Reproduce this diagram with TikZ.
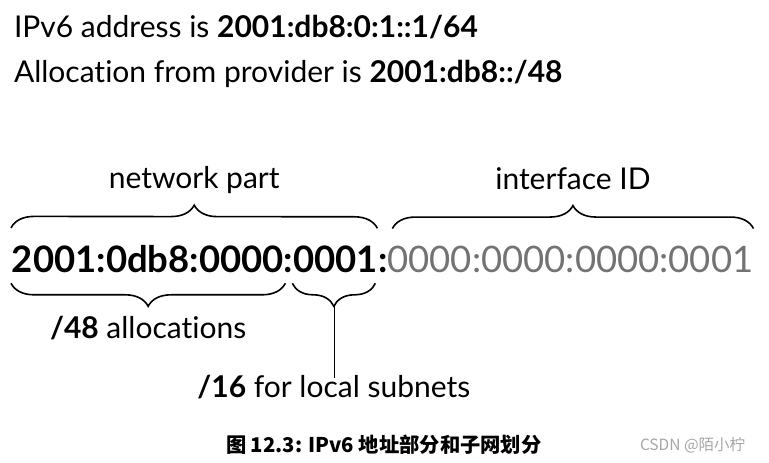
\documentclass[tikz,border=0pt]{standalone}
\usepackage{fontspec}
\setmainfont{Lato}[Ligatures={NoCommon}]
\newfontfamily\cjk{Noto Sans CJK SC}
\usetikzlibrary{positioning, decorations.pathreplacing}

\begin{document}
\begin{tikzpicture}[
    x=1pt, y=-1pt,
    every node/.style={inner sep=0pt, outer sep=0pt},
    txt/.style={font=\fontsize{30}{35}\selectfont, anchor=base west},
    lbl/.style={font=\fontsize{30}{35}\selectfont, anchor=base},
    addr/.style={font=\fontsize{36.5}{42}\selectfont\bfseries, anchor=base west},
    hostpart/.style={font=\fontsize{36.5}{42}\selectfont, text=black!55, anchor=base west},
    brc/.style={decorate, line width=1.6pt, decoration={brace, amplitude=23pt}}
]
\useasboundingbox (0,0) rectangle (769,463);
\fill[white] (0,0) rectangle (769,463);

% Kopfzeilen
\node[txt] (ip) at (14,37) {IPv6 address is \textbf{2001:db8:0:1::1/64}};
\node[txt] (alloc) at (14,82) {Allocation from provider is \textbf{2001:db8::/48}};

% Adresse
\node[addr] (pre) at (12,272) {2001:0db8:0000:};
\node[addr] (sub) at (pre.base east) {0001:};
\node[hostpart] (iid) at (sub.base east) {0000:0000:0000:0001};

% Klammern oben
\draw[brc] ([xshift=-1pt, yshift=17pt]pre.north west) -- ([xshift=-10pt, yshift=17pt]sub.north east)
    node[lbl, midway, yshift=40pt] (netlbl) {network part};
\draw[brc] ([xshift=5pt, yshift=17pt]iid.north west) -- ([yshift=17pt]iid.north east)
    node[lbl, midway, yshift=39pt] (iflbl) {interface ID};

% Klammern unten
\draw[brc] ([xshift=-8pt, yshift=-11pt]sub.south west) -- ([xshift=-1pt, yshift=-11pt]pre.south west)
    node[lbl, midway, yshift=-55pt] (al48) {\textbf{/48} allocations};
\draw[brc] ([xshift=-12pt, yshift=-11pt]sub.south east) -- ([xshift=-1pt, yshift=-11pt]sub.south west)
    coordinate[midway, below=23pt] (tip16);

% Subnetz-Beschriftung
\node[lbl] (sub16) at ([yshift=-91pt]tip16) {\textbf{/16} for local subnets};
\draw (tip16) -- ([yshift=-3pt]sub16.north);

% Bildunterschrift
\node[font=\cjk\bfseries\fontsize{20.3}{24}\selectfont, anchor=base west] (cap) at (226,452) {图 12.3: IPv6 地址部分和子网划分};
\node[font=\cjk\fontsize{15.5}{18}\selectfont, text=black!35, anchor=base west] (wm) at (640,450) {CSDN @陌小柠};
\end{tikzpicture}
\end{document}
